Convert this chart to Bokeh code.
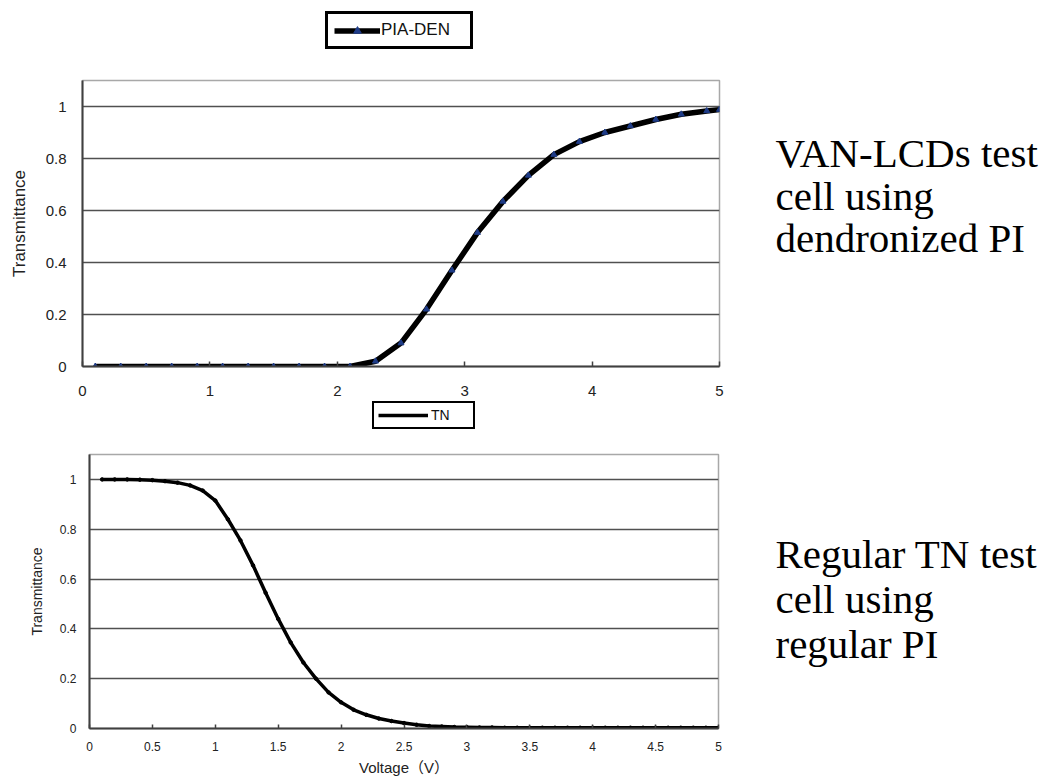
from bokeh.plotting import figure
from bokeh.models import Range1d, FixedTicker, NumeralTickFormatter, Legend, LegendItem, Label
from bokeh.layouts import column, row
from bokeh.embed import file_html
from bokeh.resources import INLINE

# ---------------- data ----------------
pia_voltage = [0.1, 0.3, 0.5, 0.7, 0.9, 1.1, 1.3, 1.5, 1.7, 1.9, 2.1,
               2.3, 2.5, 2.7, 2.9, 3.1, 3.3, 3.5, 3.7, 3.9, 4.1, 4.3,
               4.5, 4.7, 4.9, 5.0]
pia_trans = [0, 0, 0, 0, 0, 0, 0, 0, 0, 0, 0,
             0.02, 0.09, 0.22, 0.37, 0.515, 0.635, 0.735, 0.815, 0.865,
             0.9, 0.925, 0.95, 0.97, 0.983, 0.988]

tn_voltage = [0.1, 0.2, 0.3, 0.4, 0.5, 0.6, 0.7, 0.8, 0.9, 1.0,
              1.1, 1.2, 1.3, 1.4, 1.5, 1.6, 1.7, 1.8, 1.9, 2.0,
              2.1, 2.2, 2.3, 2.4, 2.5, 2.6, 2.7, 2.8, 2.9, 3.0,
              3.1, 3.2, 3.3, 3.4, 3.5, 3.6, 3.7, 3.8, 3.9, 4.0,
              4.1, 4.2, 4.3, 4.4, 4.5, 4.6, 4.7, 4.8, 4.9, 5.0]
tn_trans = [1.0, 1.0, 1.0, 0.999, 0.997, 0.993, 0.987, 0.976, 0.955, 0.915,
            0.84, 0.755, 0.655, 0.545, 0.44, 0.345, 0.265, 0.2, 0.145, 0.105,
            0.075, 0.055, 0.04, 0.03, 0.022, 0.015, 0.01, 0.008, 0.006, 0.005,
            0.004, 0.004, 0.003, 0.003, 0.003, 0.003, 0.003, 0.003, 0.003, 0.003,
            0.003, 0.003, 0.003, 0.003, 0.003, 0.003, 0.003, 0.003, 0.003, 0.003]

top_x_ticks = [0, 1, 2, 3, 4, 5]
bottom_x_ticks = [0, 0.5, 1, 1.5, 2, 2.5, 3, 3.5, 4, 4.5, 5]
y_ticks = [0, 0.2, 0.4, 0.6, 0.8, 1.0]

top_caption = ["VAN-LCDs test", "cell using", "dendronized PI"]
bottom_caption = ["Regular TN test", "cell using", "regular PI"]

SANS = "Liberation Sans"
SERIF = "Liberation Serif"
AXIS_DARK = "#404040"

MAIN_W = 740
TOTAL_W = 1040
TOTAL_H = 780


def style(p, x_ticks, tick_font, tick_standoff_x, tick_standoff_y, tick_in,
          ylabel_font, ylabel_standoff):
    p.xgrid.grid_line_color = None
    p.ygrid.grid_line_color = "#505050"
    p.ygrid.grid_line_width = 1.3
    p.outline_line_color = "#a8a8a8"
    p.outline_line_width = 1.5
    p.background_fill_color = "white"
    p.border_fill_color = "white"

    xa = p.xaxis[0]
    xa.ticker = FixedTicker(ticks=x_ticks)
    xa.formatter = NumeralTickFormatter(format="0.[0]")
    xa.major_tick_in = tick_in
    xa.major_tick_out = 0
    xa.minor_tick_line_color = None
    xa.axis_line_color = AXIS_DARK
    xa.axis_line_width = 2
    xa.major_tick_line_color = AXIS_DARK
    xa.major_tick_line_width = 1.5
    xa.major_label_standoff = tick_standoff_x
    xa.major_label_text_font = SANS
    xa.major_label_text_font_size = tick_font
    xa.major_label_text_color = "#222222"

    ya = p.yaxis[0]
    ya.ticker = FixedTicker(ticks=y_ticks)
    ya.formatter = NumeralTickFormatter(format="0.[0]")
    ya.major_tick_in = 0
    ya.major_tick_out = 0
    ya.minor_tick_line_color = None
    ya.axis_line_color = AXIS_DARK
    ya.axis_line_width = 2
    ya.major_label_standoff = tick_standoff_y
    ya.major_label_text_font = SANS
    ya.major_label_text_font_size = tick_font
    ya.major_label_text_color = "#222222"
    ya.axis_label = "Transmittance"
    ya.axis_label_text_font = SANS
    ya.axis_label_text_font_style = "normal"
    ya.axis_label_text_font_size = ylabel_font
    ya.axis_label_text_color = "#222222"
    ya.axis_label_standoff = ylabel_standoff


def blank(width, height, x_range, y_range):
    f = figure(width=width, height=height, output_backend="svg", toolbar_location=None,
               x_range=x_range, y_range=y_range,
               x_axis_type=None, y_axis_type=None,
               min_border=0, min_border_left=0, min_border_right=0,
               min_border_top=0, min_border_bottom=0)
    f.grid.grid_line_color = None
    f.outline_line_color = None
    f.background_fill_color = "white"
    f.border_fill_color = "white"
    return f


# ---------------- top chart ----------------
top = figure(width=MAIN_W, height=328, output_backend="svg", toolbar_location=None,
             x_range=Range1d(0, 5), y_range=Range1d(0, 1.1),
             min_border_left=82, min_border_right=MAIN_W - 82 - 637,
             min_border_top=8, min_border_bottom=34)
style(top, top_x_ticks, "15px", 19, 16, 5, "17px", 14)
top.line(pia_voltage, pia_trans, line_color="black", line_width=5.5)
top.scatter(pia_voltage, pia_trans, marker="triangle", size=6,
            fill_color="#1f3c88", line_color="#1f3c88")

# legend strip above the top chart (same series, drawn off-view; only the key shows)
leg_top = blank(MAIN_W, 72, Range1d(-20, -19), Range1d(0, 1.1))
k1 = leg_top.line(pia_voltage, pia_trans, line_color="black", line_width=5.5)
k1s = leg_top.scatter(pia_voltage, pia_trans, marker="triangle", size=6,
                      fill_color="#1f3c88", line_color="#1f3c88")
leg_top.add_layout(Legend(items=[LegendItem(label="PIA-DEN", renderers=[k1, k1s])],
                          location=(243, 23), border_line_color="black",
                          border_line_width=3, border_line_alpha=1,
                          padding=6, margin=0, spacing=0, glyph_width=46, glyph_height=19,
                          label_height=19, label_width=83, label_standoff=1,
                          label_text_font=SANS, label_text_font_size="17px",
                          label_text_color="#111111",
                          background_fill_color="white", background_fill_alpha=1))

# ---------------- bottom chart ----------------
bot = figure(width=MAIN_W, height=332, output_backend="svg", toolbar_location=None,
             x_range=Range1d(0, 5), y_range=Range1d(0, 1.1),
             min_border_left=89, min_border_right=MAIN_W - 89 - 629,
             min_border_top=6, min_border_bottom=52)
style(bot, bottom_x_ticks, "12px", 13, 13, 4, "14px", 12)
bot.xaxis[0].axis_label = "Voltage（V）"
bot.xaxis[0].axis_label_text_font = "Liberation Sans, Noto Sans CJK JP"
bot.xaxis[0].axis_label_text_font_style = "normal"
bot.xaxis[0].axis_label_text_font_size = "15px"
bot.xaxis[0].axis_label_text_color = "#222222"
bot.xaxis[0].axis_label_standoff = 5
bot.line(tn_voltage, tn_trans, line_color="black", line_width=3.5)
bot.scatter(tn_voltage, tn_trans, marker="circle", size=3.5,
            fill_color="black", line_color="black")

leg_bot = blank(MAIN_W, 48, Range1d(-20, -19), Range1d(0, 1.1))
k2 = leg_bot.line(tn_voltage, tn_trans, line_color="black", line_width=3.5)
leg_bot.add_layout(Legend(items=[LegendItem(label="TN", renderers=[k2])],
                          location=(283, 19), border_line_color="black",
                          border_line_width=2.5, border_line_alpha=1,
                          padding=4, margin=0, spacing=0, glyph_width=50, glyph_height=16,
                          label_height=16, label_width=38, label_standoff=3,
                          label_text_font=SANS, label_text_font_size="14px",
                          label_text_color="#111111",
                          background_fill_color="white", background_fill_alpha=1))

# ---------------- captions (right side) ----------------
CAP_W = TOTAL_W - MAIN_W
cap = blank(CAP_W, TOTAL_H, Range1d(0, CAP_W), Range1d(0, TOTAL_H))
cap_x = 35
top_mid = [152, 195, 237]      # text line centres, px from the top
bot_mid = [553, 598, 643]
for txt, m in zip(top_caption + bottom_caption, top_mid + bot_mid):
    cap.add_layout(Label(x=cap_x, y=TOTAL_H - m, text=txt, text_font=SERIF,
                         text_font_size="41px", text_color="black",
                         text_baseline="middle", text_align="left"))

layout = row(column(row(column(leg_top, top, spacing=0)),
                    row(column(leg_bot, bot, spacing=0)), spacing=0),
             cap, spacing=0)
open("out.html", "w").write(file_html(layout, INLINE))
